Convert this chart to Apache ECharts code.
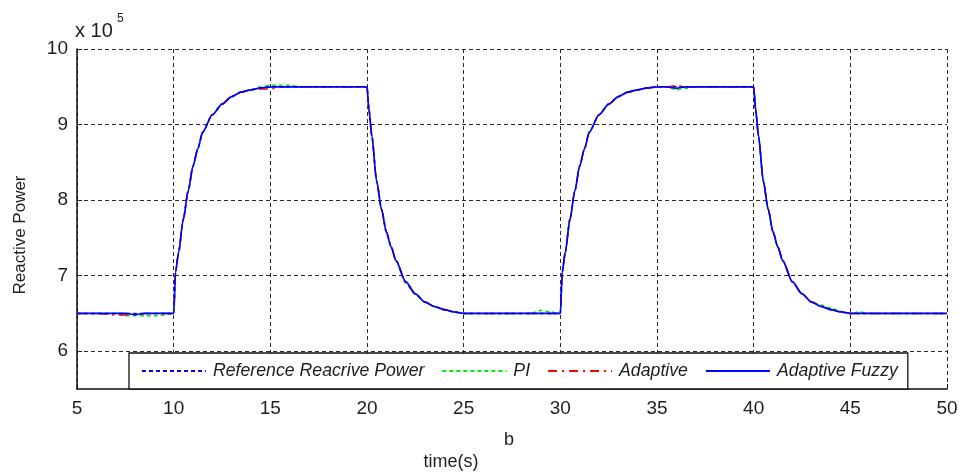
<!DOCTYPE html>
<html>
<head>
<meta charset="utf-8">
<script src="https://cdn.jsdelivr.net/npm/echarts@6/dist/echarts.min.js"></script>
<style>
  html, body { margin: 0; padding: 0; background: #fff; }
  #chart { width: 967px; height: 476px; }
</style>
</head>
<body>
<div id="chart"></div>
<script>
// Sample times (s)
const timeS = [
  5, 6, 7, 7.5, 8, 8.5, 9, 9.5,
  10, 10.1, 10.25, 10.5, 10.75, 11, 11.25, 11.5, 12, 12.5, 13, 13.5, 14, 14.5, 15,
  15.5, 16, 16.5, 17, 18, 19,
  20, 20.1, 20.25, 20.5, 20.75, 21, 21.25, 21.5, 22, 22.5, 23, 23.5, 24, 24.5, 25,
  26, 27, 28, 28.5, 29, 29.5,
  30, 30.1, 30.25, 30.5, 30.75, 31, 31.25, 31.5, 32, 32.5, 33, 33.5, 34, 34.5, 35,
  35.5, 36, 36.5, 37, 38, 39,
  40, 40.1, 40.25, 40.5, 40.75, 41, 41.25, 41.5, 42, 42.5, 43, 43.5, 44, 44.5, 45,
  45.5, 46, 47, 48, 49, 50
];

// Reactive power, in units of 10^5
const referencePower = [
  6.5, 6.5, 6.5, 6.5, 6.5, 6.5, 6.5, 6.5,
  6.5, 7.05, 7.3, 7.75, 8.12, 8.45, 8.68, 8.9, 9.13, 9.27, 9.37, 9.43, 9.46, 9.485, 9.5,
  9.5, 9.5, 9.5, 9.5, 9.5, 9.5,
  9.5, 9.2, 8.85, 8.25, 7.88, 7.58, 7.38, 7.2, 6.92, 6.76, 6.65, 6.59, 6.55, 6.52, 6.5,
  6.5, 6.5, 6.5, 6.5, 6.5, 6.5,
  6.5, 7.05, 7.3, 7.75, 8.12, 8.45, 8.68, 8.9, 9.13, 9.27, 9.37, 9.43, 9.46, 9.485, 9.5,
  9.5, 9.5, 9.5, 9.5, 9.5, 9.5,
  9.5, 9.2, 8.85, 8.25, 7.88, 7.58, 7.38, 7.2, 6.92, 6.76, 6.65, 6.59, 6.55, 6.52, 6.5,
  6.5, 6.5, 6.5, 6.5, 6.5, 6.5
];

const piPower = [
  6.5, 6.5, 6.5, 6.47, 6.47, 6.47, 6.47, 6.48,
  6.5, 7.05, 7.3, 7.75, 8.12, 8.45, 8.68, 8.9, 9.13, 9.27, 9.37, 9.43, 9.46, 9.5, 9.52,
  9.52, 9.52, 9.5, 9.5, 9.5, 9.5,
  9.5, 9.2, 8.85, 8.25, 7.88, 7.58, 7.38, 7.19, 6.9, 6.75, 6.65, 6.59, 6.55, 6.52, 6.5,
  6.5, 6.5, 6.5, 6.5, 6.54, 6.52,
  6.5, 7.05, 7.3, 7.75, 8.12, 8.45, 8.68, 8.9, 9.13, 9.27, 9.37, 9.43, 9.46, 9.485, 9.5,
  9.5, 9.46, 9.48, 9.5, 9.5, 9.5,
  9.5, 9.2, 8.85, 8.25, 7.88, 7.58, 7.38, 7.2, 6.92, 6.76, 6.65, 6.61, 6.57, 6.53, 6.5,
  6.52, 6.5, 6.5, 6.5, 6.5, 6.5
];

const adaptivePower = [
  6.5, 6.5, 6.48, 6.48, 6.485, 6.5, 6.5, 6.5,
  6.5, 7.05, 7.3, 7.75, 8.12, 8.45, 8.68, 8.9, 9.13, 9.27, 9.37, 9.43, 9.46, 9.47, 9.47,
  9.5, 9.5, 9.5, 9.5, 9.5, 9.5,
  9.5, 9.2, 8.85, 8.25, 7.88, 7.58, 7.38, 7.2, 6.91, 6.76, 6.65, 6.59, 6.55, 6.52, 6.5,
  6.5, 6.5, 6.5, 6.5, 6.5, 6.5,
  6.5, 7.05, 7.3, 7.75, 8.12, 8.45, 8.68, 8.9, 9.13, 9.27, 9.37, 9.43, 9.46, 9.485, 9.5,
  9.5, 9.515, 9.5, 9.5, 9.5, 9.5,
  9.5, 9.2, 8.85, 8.25, 7.88, 7.58, 7.38, 7.2, 6.92, 6.76, 6.65, 6.6, 6.55, 6.52, 6.5,
  6.5, 6.5, 6.5, 6.5, 6.5, 6.5
];

const fuzzyPower = [
  6.5, 6.5, 6.5, 6.5, 6.485, 6.5, 6.5, 6.5,
  6.5, 7.05, 7.3, 7.75, 8.12, 8.45, 8.68, 8.9, 9.13, 9.27, 9.37, 9.43, 9.46, 9.485, 9.5,
  9.5, 9.5, 9.5, 9.5, 9.5, 9.5,
  9.5, 9.2, 8.85, 8.25, 7.88, 7.58, 7.38, 7.2, 6.92, 6.76, 6.65, 6.59, 6.55, 6.52, 6.5,
  6.5, 6.5, 6.5, 6.5, 6.5, 6.5,
  6.5, 7.05, 7.3, 7.75, 8.12, 8.45, 8.68, 8.9, 9.13, 9.27, 9.37, 9.43, 9.46, 9.485, 9.5,
  9.5, 9.48, 9.5, 9.5, 9.5, 9.5,
  9.5, 9.2, 8.85, 8.25, 7.88, 7.58, 7.38, 7.2, 6.92, 6.76, 6.65, 6.59, 6.55, 6.52, 6.5,
  6.5, 6.5, 6.5, 6.5, 6.5, 6.5
];

const seriesNames = ['Reference Reacrive Power', 'PI', 'Adaptive', 'Adaptive Fuzzy'];
const yTickValues = [6, 7, 8, 9, 10];
const xRange = [5, 50];
const yRange = [5.5, 10];

const FONT = '"Liberation Sans", Arial, sans-serif';
const INK = '#1e1e1e';
const gridDash = { color: '#2a2a2a', width: 1, type: [4, 3] };

const pairs = arr => timeS.map((t, i) => [t, arr[i]]);

const lineSeries = (name, values, z, lineStyle) => ({
  name,
  type: 'line',
  data: pairs(values),
  showSymbol: false,
  symbol: 'none',
  smooth: 0.25,
  smoothMonotone: 'x',
  z,
  lineStyle,
  itemStyle: { color: lineStyle.color }
});

const chart = echarts.init(document.getElementById('chart'), null, { renderer: 'canvas' });

chart.setOption({
  animation: false,
  backgroundColor: '#fff',
  grid: { left: 77, right: 20, top: 49, bottom: 87, containLabel: false, outerBoundsMode: 'none' },
  xAxis: {
    type: 'value',
    min: xRange[0],
    max: xRange[1],
    interval: 5,
    axisLine: { show: true, onZero: false, lineStyle: { color: '#111', width: 1.5 } },
    axisTick: { show: true, inside: true, length: 5, lineStyle: { color: '#111', width: 1 } },
    axisLabel: { fontFamily: FONT, fontSize: 19, color: INK, margin: 10 },
    splitLine: { show: true, lineStyle: gridDash }
  },
  yAxis: {
    type: 'value',
    min: yRange[0],
    max: yRange[1],
    interval: 0.5,
    axisLine: { show: true, onZero: false, lineStyle: { color: '#111', width: 1.5 } },
    axisTick: { show: true, inside: true, length: 5, customValues: yTickValues, lineStyle: { color: '#111', width: 1 } },
    axisLabel: {
      fontFamily: FONT, fontSize: 19, color: INK, margin: 9,
      customValues: yTickValues,
      formatter: v => (Number.isInteger(v) ? String(v) : '')
    },
    splitLine: { show: false }
  },
  legend: {
    data: seriesNames,
    left: 129,
    top: 353,
    orient: 'horizontal',
    itemWidth: 64,
    itemHeight: 12,
    itemGap: 17,
    padding: [9, 10, 9, 12],
    backgroundColor: '#fff',
    borderColor: '#111',
    borderWidth: 1.3,
    borderRadius: 0,
    itemStyle: { opacity: 0 },
    textStyle: { fontFamily: FONT, fontSize: 17.7, fontStyle: 'italic', color: INK, padding: [0, 0, 0, 2] },
    z: 10
  },
  graphic: [
    {
      type: 'text', left: 75, top: 21, z: 10,
      style: { text: 'x 10', font: '20px ' + FONT, fill: INK }
    },
    {
      type: 'text', left: 117, top: 13, z: 10,
      style: { text: '5', font: '12px ' + FONT, fill: INK }
    },
    {
      type: 'text', x: 20, y: 235, rotation: Math.PI / 2, z: 10,
      style: { text: 'Reactive Power', font: '17px ' + FONT, fill: INK, align: 'center', verticalAlign: 'middle' }
    },
    {
      type: 'text', x: 509, y: 440, z: 10,
      style: { text: 'b', font: '18px ' + FONT, fill: INK, align: 'center', verticalAlign: 'middle' }
    },
    {
      type: 'text', x: 451, y: 462, z: 10,
      style: { text: 'time(s)', font: '18px ' + FONT, fill: INK, align: 'center', verticalAlign: 'middle' }
    }
  ],
  series: [
    {
      // horizontal grid lines at the labelled ticks
      name: '__grid',
      type: 'line',
      data: [],
      z: 1,
      silent: true,
      markLine: {
        silent: true,
        symbol: 'none',
        label: { show: false },
        lineStyle: gridDash,
        data: yTickValues.map(v => ({ yAxis: v }))
      }
    },
    lineSeries(seriesNames[0], referencePower, 3, { color: '#0000ff', width: 1.4, type: [4, 3] }),
    lineSeries(seriesNames[1], piPower, 4, { color: '#00ee00', width: 1.6, type: [4, 3] }),
    lineSeries(seriesNames[2], adaptivePower, 5, { color: '#ff0000', width: 1.6, type: [9, 5, 2, 5] }),
    lineSeries(seriesNames[3], fuzzyPower, 6, { color: '#0000ff', width: 1.7, type: 'solid' })
  ]
});
</script>
</body>
</html>
